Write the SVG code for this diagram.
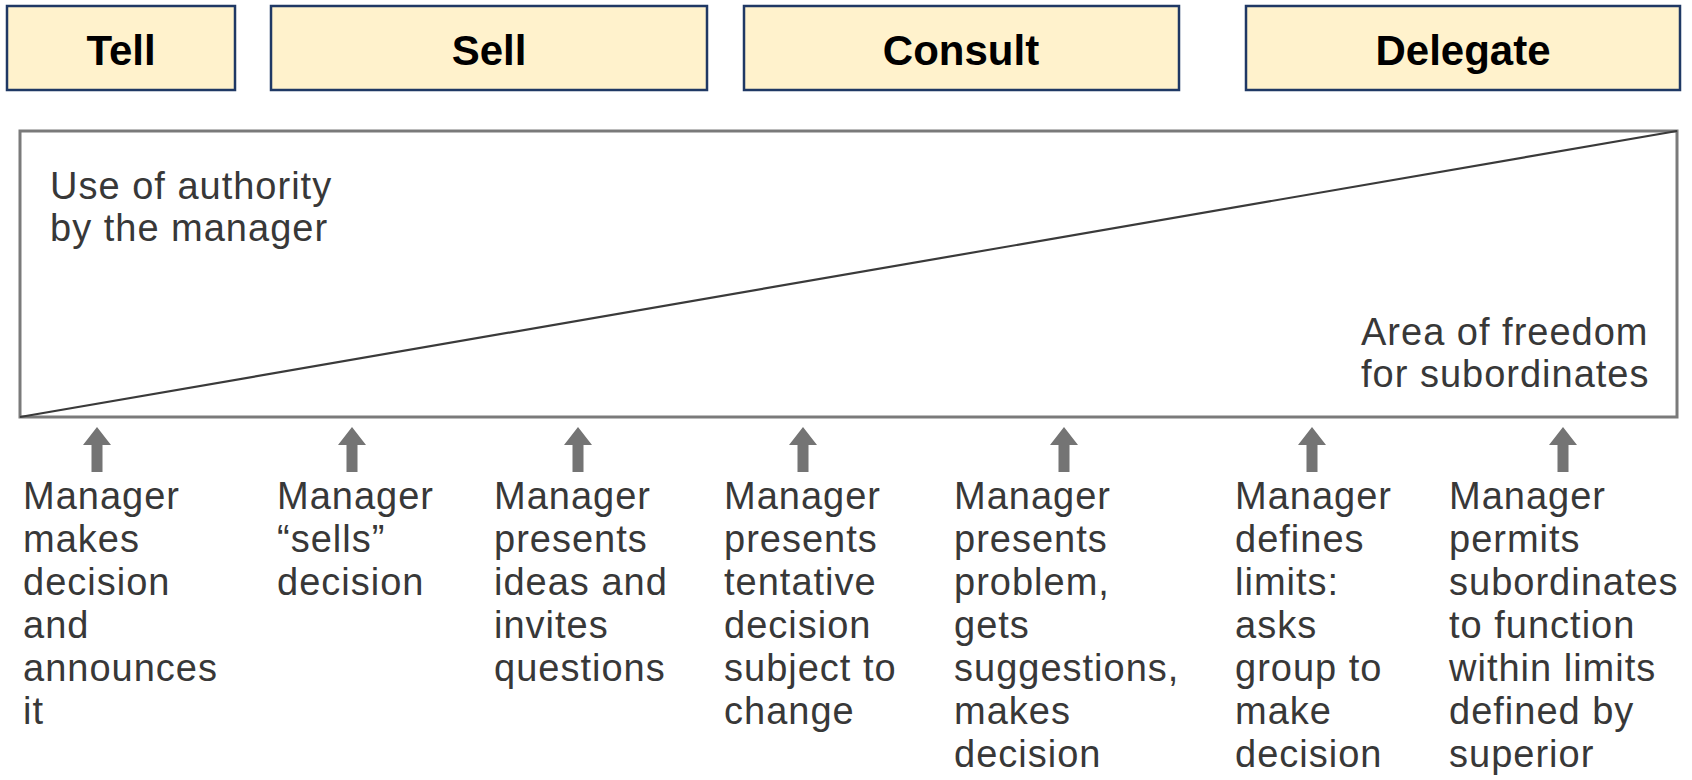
<svg xmlns="http://www.w3.org/2000/svg" width="1692" height="780" viewBox="0 0 1692 780">
  <style>
    .style-box { fill: #FFF2CC; stroke: #1F3864; stroke-width: 2.5; }
    .style-title { font-family: "Liberation Sans", Arial, sans-serif; font-weight: bold; font-size: 42px; fill: #000; text-anchor: middle; }
    .label { font-family: "Liberation Sans", Arial, sans-serif; font-size: 38px; letter-spacing: 1px; fill: #383838; }
    .frame { fill: #fff; stroke: #7a7a7a; stroke-width: 3; }
    .divider { stroke: #3a3a3a; stroke-width: 2.2; fill: none; }
    .pointer { fill: #747474; }
  </style>
  <defs>
    <!-- upward pointer, tip at origin -->
    <path id="up" class="pointer" d="M0,0 L14,18 L5.5,18 L5.5,45 L-5.5,45 L-5.5,18 L-14,18 Z"/>
  </defs>

  <rect width="1692" height="780" fill="#fff"/>

  <!-- leadership style headings -->
  <g id="tell">
    <rect class="style-box" x="7" y="6" width="228" height="84"/>
    <text class="style-title" x="121" y="65">Tell</text>
  </g>
  <g id="sell">
    <rect class="style-box" x="271" y="6" width="436" height="84"/>
    <text class="style-title" x="489" y="65">Sell</text>
  </g>
  <g id="consult">
    <rect class="style-box" x="744" y="6" width="435" height="84"/>
    <text class="style-title" x="961" y="65">Consult</text>
  </g>
  <g id="delegate">
    <rect class="style-box" x="1246" y="6" width="434" height="84"/>
    <text class="style-title" x="1463" y="65">Delegate</text>
  </g>

  <!-- authority / freedom continuum -->
  <g id="continuum">
    <rect class="frame" x="20" y="131" width="1657" height="286"/>
    <line class="divider" x1="20" y1="417" x2="1677" y2="131"/>
    <text class="label" x="50" y="199">Use of authority<tspan x="50" dy="42">by the manager</tspan></text>
    <text class="label" x="1361" y="345">Area of freedom<tspan x="1361" dy="42">for subordinates</tspan></text>
  </g>

  <!-- pointers from behaviours up to the continuum -->
  <g id="connectors">
    <use href="#up" x="97" y="427"/>
    <use href="#up" x="352" y="427"/>
    <use href="#up" x="578" y="427"/>
    <use href="#up" x="803" y="427"/>
    <use href="#up" x="1064" y="427"/>
    <use href="#up" x="1312" y="427"/>
    <use href="#up" x="1563" y="427"/>
  </g>

  <!-- manager behaviours -->
  <g id="b1">
    <text class="label" x="23" y="509">Manager<tspan x="23" dy="43">makes</tspan><tspan x="23" dy="43">decision</tspan><tspan x="23" dy="43">and</tspan><tspan x="23" dy="43">announces</tspan><tspan x="23" dy="43">it</tspan></text>
  </g>
  <g id="b2">
    <text class="label" x="277" y="509">Manager<tspan x="277" dy="43">“sells”</tspan><tspan x="277" dy="43">decision</tspan></text>
  </g>
  <g id="b3">
    <text class="label" x="494" y="509">Manager<tspan x="494" dy="43">presents</tspan><tspan x="494" dy="43">ideas and</tspan><tspan x="494" dy="43">invites</tspan><tspan x="494" dy="43">questions</tspan></text>
  </g>
  <g id="b4">
    <text class="label" x="724" y="509">Manager<tspan x="724" dy="43">presents</tspan><tspan x="724" dy="43">tentative</tspan><tspan x="724" dy="43">decision</tspan><tspan x="724" dy="43">subject to</tspan><tspan x="724" dy="43">change</tspan></text>
  </g>
  <g id="b5">
    <text class="label" x="954" y="509">Manager<tspan x="954" dy="43">presents</tspan><tspan x="954" dy="43">problem,</tspan><tspan x="954" dy="43">gets</tspan><tspan x="954" dy="43">suggestions,</tspan><tspan x="954" dy="43">makes</tspan><tspan x="954" dy="43">decision</tspan></text>
  </g>
  <g id="b6">
    <text class="label" x="1235" y="509">Manager<tspan x="1235" dy="43">defines</tspan><tspan x="1235" dy="43">limits:</tspan><tspan x="1235" dy="43">asks</tspan><tspan x="1235" dy="43">group to</tspan><tspan x="1235" dy="43">make</tspan><tspan x="1235" dy="43">decision</tspan></text>
  </g>
  <g id="b7">
    <text class="label" x="1449" y="509">Manager<tspan x="1449" dy="43">permits</tspan><tspan x="1449" dy="43">subordinates</tspan><tspan x="1449" dy="43">to function</tspan><tspan x="1449" dy="43">within limits</tspan><tspan x="1449" dy="43">defined by</tspan><tspan x="1449" dy="43">superior</tspan></text>
  </g>
</svg>
